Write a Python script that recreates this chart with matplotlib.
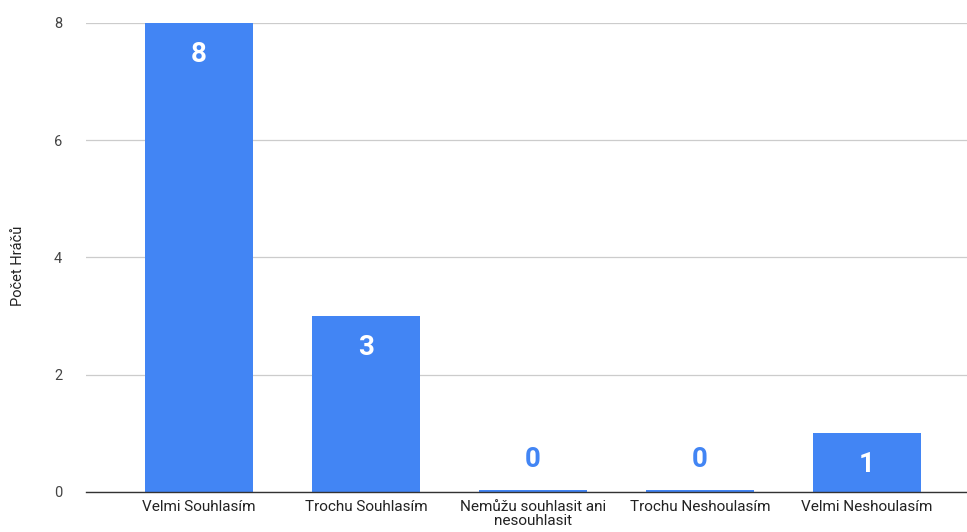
import matplotlib.pyplot as plt
import numpy as np

categories = ["Velmi Souhlasím", "Trochu Souhlasím", "Nemůžu souhlasit ani\nnesouhlasit",
              "Trochu Neshoulasím", "Velmi Neshoulasím"]
counts = [8, 3, 0, 0, 1]
y_ticks = [0, 2, 4, 6, 8]

BLUE = "#4285f4"
plt.rcParams["font.family"] = ["Roboto", "DejaVu Sans"]

fig = plt.figure(figsize=(9.67, 5.32), dpi=100)
ax = fig.add_axes([0.0889, 0.0752, 0.9111, 0.8816])

x = np.arange(len(categories))
# zero bars still show as a thin line, like the original
heights = [max(v, 0.03) for v in counts]
ax.bar(x, heights, width=0.65, color=BLUE, zorder=3)

for xi, v in zip(x, counts):
    if v > 0:
        ax.text(xi, v - 0.3, str(v), ha="center", va="top", color="white",
                fontsize=20, fontweight="bold", zorder=4)
    else:
        ax.text(xi, 0.33, str(v), ha="center", va="bottom", color=BLUE,
                fontsize=20, fontweight="bold", zorder=4)

ax.set_xlim(-0.677, 4.6)
ax.set_ylim(0, 8)
ax.set_yticks(y_ticks)
ax.set_xticks(x)
ax.set_xticklabels(categories, fontsize=11, color="#222222", linespacing=1.0)
ax.tick_params(axis="y", labelsize=10.5, colors="#444444", length=0, pad=17)
ax.tick_params(axis="x", length=0, pad=6)
ax.grid(axis="y", color="#cccccc", linewidth=0.9, zorder=0)
for s in ["top", "right", "left"]:
    ax.spines[s].set_visible(False)
ax.spines["bottom"].set_color("#333333")
ax.spines["bottom"].set_linewidth(1.0)
ax.spines["bottom"].set_zorder(5)

fig.text(0.019, 0.5, "Počet Hráčů", rotation=90, ha="center", va="center",
         fontsize=10.5, color="#222222")

fig.savefig("out.png", dpi=100)
